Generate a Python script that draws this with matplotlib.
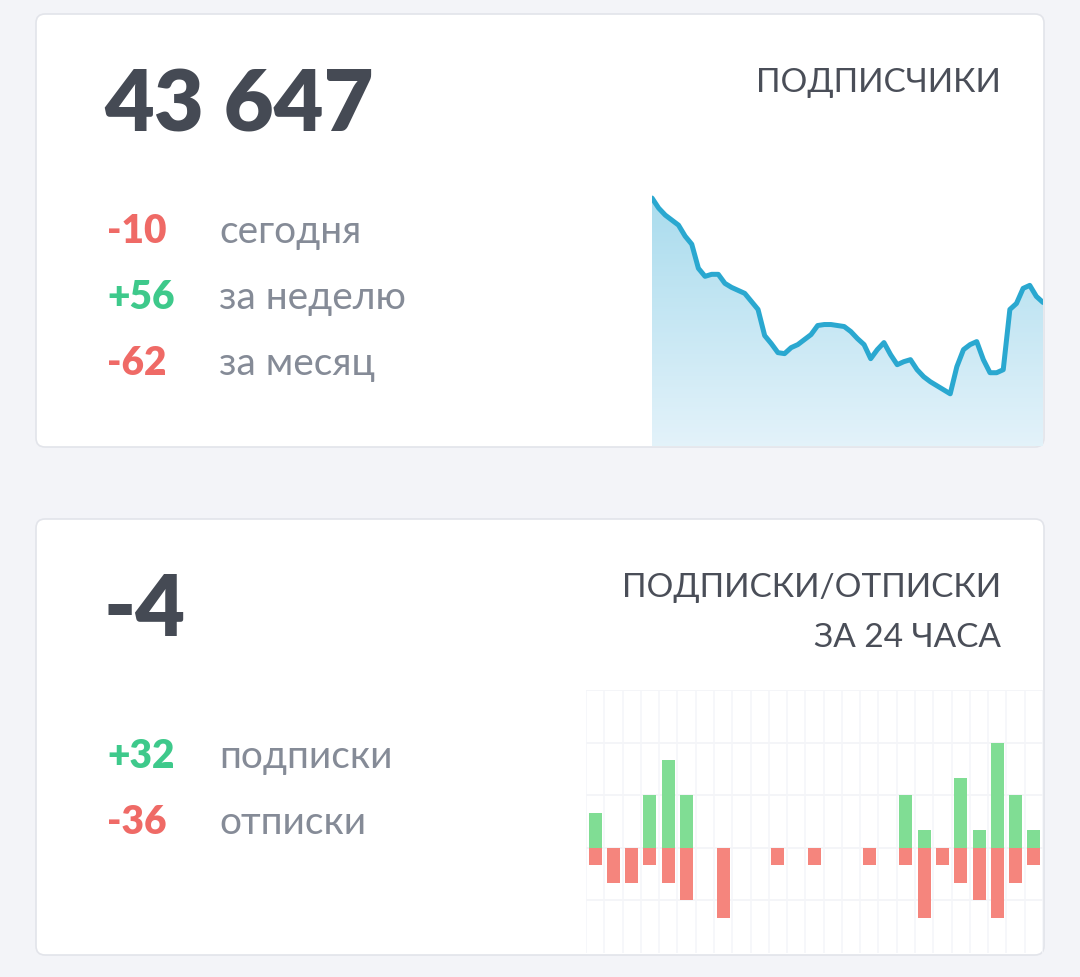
import numpy as np
import matplotlib.pyplot as plt
from matplotlib.patches import FancyBboxPatch

# subscribers over time (sparkline)
subscribers = [43751, 43741, 43734, 43729, 43724, 43713, 43705, 43681, 43673, 43675,
               43675, 43666, 43662, 43659, 43656, 43648, 43640, 43614, 43606, 43597,
               43596, 43602, 43605, 43610, 43615, 43624, 43625, 43625, 43624, 43623,
               43618, 43611, 43605, 43591, 43600, 43607, 43595, 43585, 43588, 43590,
               43580, 43573, 43568, 43564, 43560, 43556, 43583, 43600, 43605, 43608,
               43590, 43577, 43577, 43580, 43640, 43646, 43661, 43664, 43653, 43647]

# hourly subscribes / unsubscribes over 24 hours
subs = [2, 0, 0, 3, 5, 3, 0, 0, 0, 0, 0, 0, 0, 0, 0, 0, 0, 3, 1, 0, 4, 1, 6, 3, 1]
unsubs = [1, 2, 2, 1, 2, 3, 0, 4, 0, 0, 1, 0, 1, 0, 0, 1, 0, 1, 4, 1, 2, 3, 4, 2, 1]

total = "43 647"
stats1 = [("-10", "сегодня"), ("+56", "за неделю"), ("-62", "за месяц")]
total2 = "-4"
stats2 = [("+32", "подписки"), ("-36", "отписки")]

RED = "#ef6a66"
GREEN = "#3ec98b"
GRAY = "#858b97"
DARK = "#454a54"
TITLE = "#4a4e58"
FONT = ["Lato", "Open Sans", "DejaVu Sans"]

W, H = 1080, 977
fig = plt.figure(figsize=(W / 100, H / 100), dpi=100)
fig.patch.set_facecolor("#f3f4f8")

canvas = fig.add_axes([0, 0, 1, 1])
canvas.set_xlim(0, W)
canvas.set_ylim(H, 0)
canvas.axis("off")

for y0, y1 in [(14, 447), (519, 955)]:
    card = FancyBboxPatch((36, y0), 1044 - 36, y1 - y0,
                          boxstyle="round,pad=0,rounding_size=9",
                          fc="white", ec="#e2e4ea", lw=1.2)
    canvas.add_patch(card)


def ax_at(x0, y0, x1, y1):
    return fig.add_axes([x0 / W, 1 - y1 / H, (x1 - x0) / W, (y1 - y0) / H])


def stat_rows(rows, y_first):
    for i, (num, label) in enumerate(rows):
        y = y_first + 66 * i
        canvas.text(107, y, num, fontsize=28, fontweight="heavy",
                    color=RED if num.startswith("-") else GREEN, family=FONT, va="baseline")
        canvas.text(219, y, label, fontsize=28, color=GRAY, family=FONT, va="baseline")


# card 1 text
canvas.text(104, 132, total, fontsize=62, fontweight="heavy", color=DARK,
            family=FONT, va="baseline")
canvas.text(1001, 92, "ПОДПИСЧИКИ", fontsize=24, color=TITLE,
            family=FONT, va="baseline", ha="right")
stat_rows(stats1, 243)

# card 2 text
canvas.text(104, 636, total2, fontsize=62, fontweight="heavy", color=DARK,
            family=FONT, va="baseline")
canvas.text(1001, 597, "ПОДПИСКИ/ОТПИСКИ", fontsize=24, color=TITLE,
            family=FONT, va="baseline", ha="right")
canvas.text(1001, 647, "ЗА 24 ЧАСА", fontsize=24, color=TITLE,
            family=FONT, va="baseline", ha="right")
stat_rows(stats2, 768)

# sparkline
ax1 = ax_at(652, 190, 1043, 446)
x = np.arange(len(subscribers))
ax1.set_xlim(0, len(subscribers) - 1)
ax1.set_ylim(43504, 43759)
poly = ax1.fill_between(x, subscribers, 43400, color="none", lw=0)
grad = np.linspace(0, 1, 256).reshape(-1, 1)
top = np.array([0.66, 0.86, 0.93])
bot = np.array([0.89, 0.95, 0.98])
img = top + (bot - top) * grad[:, :, None]
im = ax1.imshow(img, extent=[0, len(subscribers) - 1, 43504, 43759],
                aspect="auto", origin="upper", zorder=1)
im.set_clip_path(poly.get_paths()[0], transform=ax1.transData)
ax1.plot(x, subscribers, color="#2aa8d0", lw=3.6, solid_joinstyle="round",
         solid_capstyle="round", zorder=2)
ax1.axis("off")

# hourly bars
ax2 = ax_at(586, 690, 1043, 953)
hours = np.arange(len(subs))
ax2.set_xlim(-0.5, len(subs) - 0.5)
ax2.set_ylim(-6, 9)
for v in [-3, 0, 3, 6, 9]:
    ax2.axhline(v, color="#f2f3f7", lw=1.2, zorder=0)
for k in range(len(subs) + 1):
    ax2.axvline(k - 0.5, color="#f5f6f9", lw=1.2, zorder=0)
ax2.bar(hours, subs, width=0.71, color="#80dd94", zorder=2)
ax2.bar(hours, [-u for u in unsubs], width=0.71, color="#f5857d", zorder=2)
ax2.axis("off")

fig.savefig("out.png", dpi=100, facecolor=fig.get_facecolor())
